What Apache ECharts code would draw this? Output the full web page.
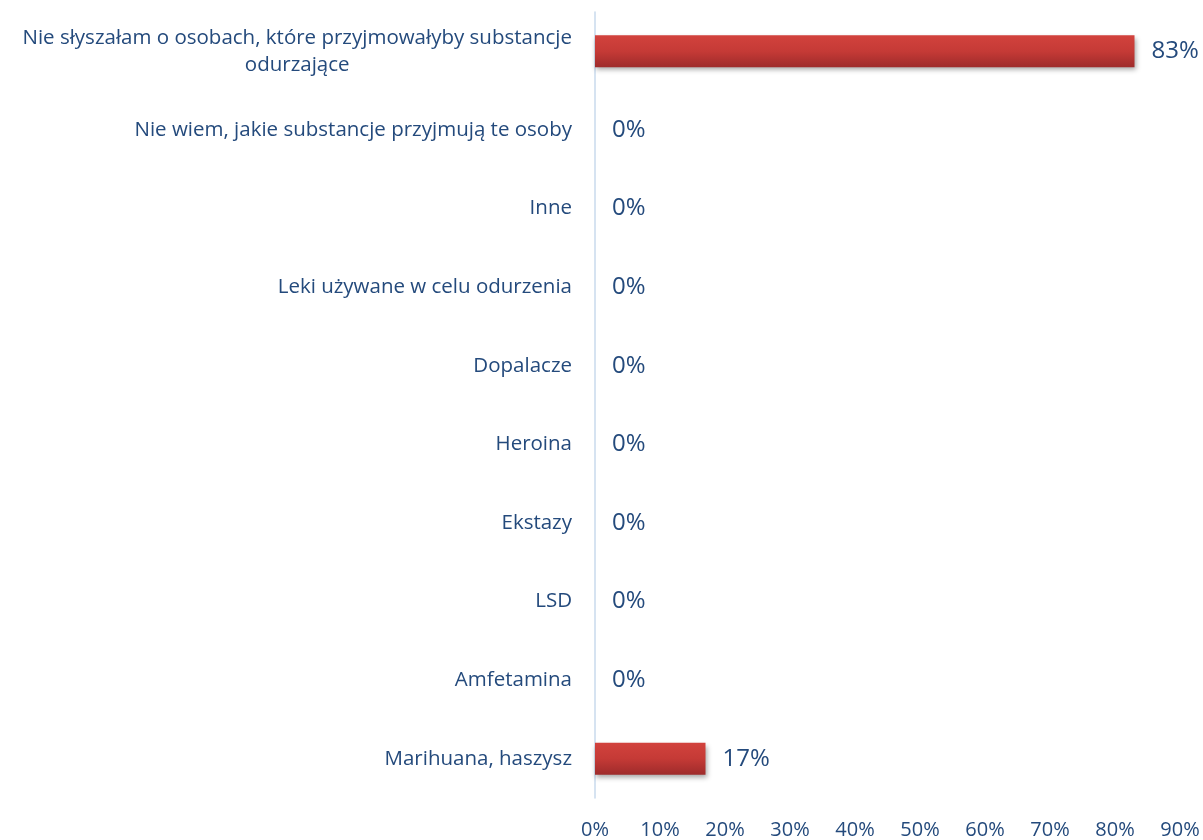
<!DOCTYPE html>
<html><head><meta charset="utf-8">
<script src="https://cdn.jsdelivr.net/npm/echarts@6/dist/echarts.min.js"></script>
<style>html,body{margin:0;padding:0;background:#fff}#c{width:1203px;height:840px}</style>
</head><body><div id="c"></div>
<script>
// categories, bottom to top
const cats = [
  "Marihuana, haszysz",
  "Amfetamina",
  "LSD",
  "Ekstazy",
  "Heroina",
  "Dopalacze",
  "Leki używane w celu odurzenia",
  "Inne",
  "Nie wiem, jakie substancje przyjmują te osoby",
  "Nie słyszałam o osobach, które przyjmowałyby substancje\nodurzające"
];
const values = [17, 0, 0, 0, 0, 0, 0, 0, 0, 83];
const xTicks = [0, 10, 20, 30, 40, 50, 60, 70, 80, 90];

const textColor = '#244A7C';
const chart = echarts.init(document.getElementById('c'));
chart.setOption({
  animation: false,
  grid: { left: 595, right: 23, top: 12, bottom: 36 },
  xAxis: {
    type: 'value', min: xTicks[0], max: xTicks[xTicks.length - 1], interval: xTicks[1] - xTicks[0],
    axisLine: { show: false }, axisTick: { show: false },
    splitLine: { show: false },
    axisLabel: { formatter: v => v + '%', color: textColor, fontSize: 20, fontFamily: 'Open Sans', margin: 22 }
  },
  yAxis: {
    type: 'category', data: cats,
    axisLine: { show: true, lineStyle: { color: '#C9DAEC', width: 1.5 } },
    axisTick: { show: false },
    axisLabel: {
      color: textColor, fontSize: 20.5, fontFamily: 'Open Sans', margin: 23,
      formatter: v => v.split('\n').map(l => '{c|' + l + '}').join('\n'),
      rich: { c: { align: 'center', color: textColor, fontSize: 20.5, fontFamily: 'Open Sans', lineHeight: 27 } }
    }
  },
  series: [{
    type: 'bar', data: values, barWidth: 32,
    itemStyle: {
      color: new echarts.graphic.LinearGradient(0, 0, 0, 1, [
        { offset: 0, color: '#D2423D' },
        { offset: 0.5, color: '#C53A36' },
        { offset: 1, color: '#9E2B2B' }
      ]),
      shadowBlur: 5, shadowOffsetY: 3, shadowOffsetX: 1, shadowColor: 'rgba(0,0,0,0.35)'
    },
    label: {
      show: true, position: 'right', distance: 17,
      formatter: p => p.value + '%',
      color: textColor, fontSize: 24, fontFamily: 'Open Sans'
    }
  }]
});
</script></body></html>
